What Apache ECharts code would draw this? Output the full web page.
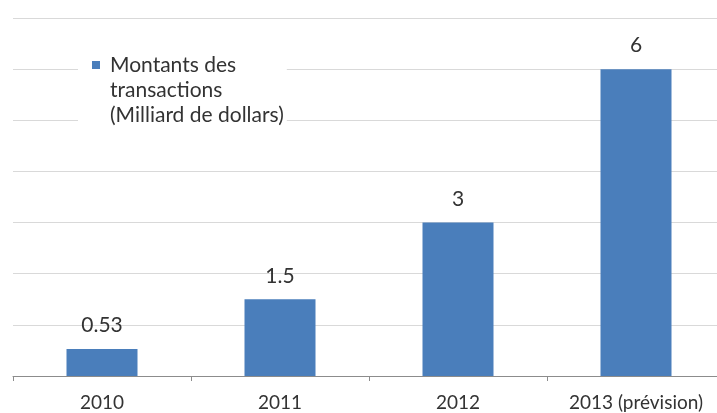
<!DOCTYPE html>
<html>
<head>
<meta charset="utf-8">
<script src="https://cdn.jsdelivr.net/npm/echarts@6/dist/echarts.min.js"></script>
<style>html,body{margin:0;padding:0;background:#fff;overflow:hidden}#c{width:725px;height:413px}</style>
</head>
<body>
<div id="c"></div>
<script>
const categories = ['2010', '2011', '2012', '2013 (prévision)'];
const values = [0.53, 1.5, 3, 6];
const seriesName = 'Montants des\ntransactions\n(Milliard de dollars)';

const chart = echarts.init(document.getElementById('c'), null, {renderer: 'canvas'});
const font = 'Lato';
const textColor = '#333333';
chart.setOption({
  animation: false,
  backgroundColor: '#ffffff',
  grid: {left: 13, right: 0, top: 18, bottom: 37, containLabel: false},
  legend: {
    show: true,
    left: 78,
    top: 46.5,
    orient: 'vertical',
    backgroundColor: '#ffffff',
    padding: [6, 3, 6, 14],
    itemWidth: 8,
    itemHeight: 58,
    icon: 'path://M0,0h8v8h-8zM0,58h0.01v0.01h-0.01z',
    textStyle: {fontFamily: font, fontSize: 21, color: textColor, lineHeight: 25, padding: [0, 0, 0, 5]},
    data: [seriesName]
  },
  xAxis: {
    type: 'category',
    data: categories,
    axisLine: {lineStyle: {color: '#8c8c8c', width: 1}},
    axisTick: {show: true, length: 5, lineStyle: {color: '#8c8c8c'}},
    axisLabel: {fontFamily: font, fontSize: 19, color: textColor, margin: 17, interval: 0}
  },
  yAxis: {
    type: 'value',
    min: 0,
    max: 7,
    interval: 1,
    axisLine: {show: false},
    axisTick: {show: false},
    axisLabel: {show: false},
    splitLine: {lineStyle: {color: '#d9d9d9', width: 1}}
  },
  series: [{
    name: seriesName,
    type: 'bar',
    data: values,
    barWidth: 71,
    itemStyle: {color: '#4a7ebb'},
    label: {show: true, position: 'top', distance: 13, fontFamily: font, fontSize: 21, color: textColor}
  }]
});
</script>
</body>
</html>
